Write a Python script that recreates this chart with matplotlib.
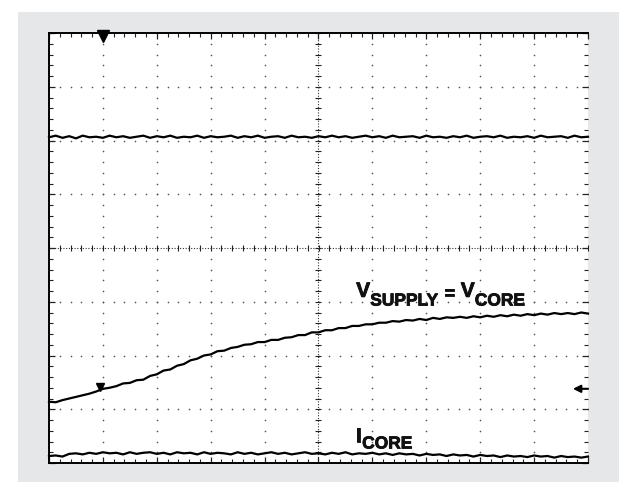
import numpy as np
import matplotlib
matplotlib.use("Agg")
import matplotlib.pyplot as plt
import matplotlib.patheffects as pe

# ---- data (in scope divisions) ----
ch_upper = [2.06, 2.09, 2.05, 2.08, 2.04, 2.09, 2.06, 2.07, 2.05, 2.09, 2.06, 2.08, 2.05, 2.07, 2.09, 2.05,
            2.08, 2.06, 2.09, 2.05, 2.07, 2.06, 2.09, 2.05, 2.08, 2.06, 2.07, 2.09, 2.05, 2.08, 2.06, 2.09,
            2.05, 2.07, 2.08, 2.05, 2.09, 2.06, 2.07, 2.05, 2.08, 2.06, 2.09, 2.06, 2.08, 2.05, 2.07, 2.09,
            2.06, 2.08, 2.05, 2.09, 2.06, 2.07, 2.08, 2.05, 2.09, 2.06, 2.07, 2.05, 2.08, 2.06, 2.09, 2.05,
            2.07, 2.08, 2.06, 2.09, 2.05, 2.07, 2.06, 2.08, 2.05, 2.09, 2.06, 2.07, 2.08, 2.05, 2.09, 2.06, 2.07]

v_supply = [-2.86, -2.87, -2.83, -2.80, -2.77, -2.74, -2.71, -2.67, -2.62, -2.60, -2.57, -2.52, -2.51, -2.46,
            -2.45, -2.38, -2.35, -2.28, -2.26, -2.19, -2.16, -2.09, -2.06, -2.00, -1.98, -1.92, -1.91, -1.86,
            -1.84, -1.80, -1.79, -1.75, -1.75, -1.71, -1.71, -1.67, -1.66, -1.62, -1.62, -1.57, -1.57, -1.53,
            -1.53, -1.49, -1.49, -1.45, -1.45, -1.42, -1.42, -1.39, -1.39, -1.36, -1.37, -1.34, -1.35, -1.32,
            -1.34, -1.30, -1.32, -1.29, -1.30, -1.28, -1.30, -1.27, -1.29, -1.26, -1.28, -1.25, -1.27, -1.24,
            -1.26, -1.23, -1.25, -1.22, -1.24, -1.21, -1.23, -1.21, -1.23, -1.20, -1.22]

i_core = [-3.87, -3.86, -3.88, -3.83, -3.82, -3.84, -3.81, -3.83, -3.80, -3.82, -3.81, -3.84, -3.80, -3.83,
          -3.81, -3.80, -3.83, -3.81, -3.84, -3.80, -3.82, -3.81, -3.84, -3.80, -3.83, -3.81, -3.82, -3.84,
          -3.80, -3.83, -3.81, -3.84, -3.82, -3.80, -3.83, -3.81, -3.84, -3.82, -3.80, -3.83, -3.82, -3.84,
          -3.81, -3.83, -3.80, -3.84, -3.82, -3.83, -3.81, -3.84, -3.82, -3.85, -3.82, -3.84, -3.83, -3.86,
          -3.83, -3.85, -3.84, -3.87, -3.84, -3.86, -3.85, -3.88, -3.85, -3.87, -3.86, -3.89, -3.86, -3.88,
          -3.87, -3.89, -3.86, -3.88, -3.87, -3.90, -3.87, -3.89, -3.88, -3.90, -3.88]

trigger_x, trigger_y = -4.05, -2.59
ref_marker_y = -2.62
top_marker_x = -4.0

FONT = "Liberation Sans"

fig = plt.figure(figsize=(6.37, 5.00), dpi=100)
fig.patch.set_facecolor("white")
W, H = 637, 500
bg = fig.add_axes([18 / W, 1 - 482 / H, (619 - 18) / W, (482 - 12) / H], zorder=-5)
bg.set_facecolor("#e6e7e8")
bg.set_xticks([])
bg.set_yticks([])
for s in bg.spines.values():
    s.set_visible(False)

ax = fig.add_axes([49 / W, 1 - 463 / H, 539 / W, 430 / H], zorder=1)
ax.set_facecolor("white")
ax.set_xlim(-5, 5)
ax.set_ylim(-4, 4)

# frame
for s in ["top", "left", "bottom"]:
    ax.spines[s].set_linewidth(1.4)
    ax.spines[s].set_color("black")
ax.spines["right"].set_visible(False)

ax.set_xticks(np.arange(-5, 5.01, 1))
ax.set_yticks(np.arange(-4, 4.01, 1))
ax.set_xticks(np.arange(-5, 5.01, 0.2), minor=True)
ax.set_yticks(np.arange(-4, 4.01, 0.2), minor=True)
ax.tick_params(which="both", direction="in", top=True, right=True, bottom=True, left=True,
               labelbottom=False, labelleft=False, color="#222222")
ax.tick_params(which="major", length=4, width=0.9)
ax.tick_params(which="minor", length=3, width=0.8)

# dotted grid
fine_y = np.arange(-4, 4.01, 0.2)
fine_x = np.arange(-5, 5.01, 0.2)
for xv in range(-4, 5):
    if xv == 0:
        continue
    ax.scatter(np.full_like(fine_y, xv), fine_y, s=1.4, color="#555555", linewidths=0, zorder=1)
for yv in range(-3, 4):
    if yv == 0:
        continue
    ax.scatter(fine_x, np.full_like(fine_x, yv), s=1.4, color="#555555", linewidths=0, zorder=1)

# center crosshair
ax.axhline(0, color="#333333", lw=0.8, ls=(0, (1, 1.5)), zorder=1)
ax.axvline(0, color="#333333", lw=0.8, ls=(0, (1, 1.5)), zorder=1)
ax.plot(fine_x, np.zeros_like(fine_x), ls="none", marker="|", ms=5, mew=0.8, color="#222222", zorder=1)
ax.plot(np.zeros_like(fine_y), fine_y, ls="none", marker="_", ms=5, mew=0.8, color="#222222", zorder=1)

# traces
for series in (ch_upper, v_supply, i_core):
    xs = np.linspace(-5, 5, len(series))
    ax.plot(xs, series, color="black", lw=1.6, zorder=3, clip_on=False, solid_joinstyle="miter")

# markers
ax.plot([trigger_x], [trigger_y], marker="v", ms=5.5, color="black", zorder=4)
ax.plot([top_marker_x], [3.94], marker="v", ms=9, color="black", zorder=4, clip_on=False)
ax.annotate("", xy=(4.72, ref_marker_y), xytext=(5.0, ref_marker_y),
            arrowprops=dict(arrowstyle="-|>", color="black", lw=1.5, mutation_scale=11,
                            shrinkA=0, shrinkB=0), annotation_clip=False, zorder=4)

# labels
stroke = [pe.withStroke(linewidth=0.6, foreground="#111111")]
main_kw = dict(fontsize=15, fontweight="bold", family=FONT, ha="left", va="baseline", color="#111111",
               zorder=5, path_effects=stroke)
sub_kw = dict(fontsize=12.5, fontweight="bold", family=FONT, ha="left", va="baseline", color="#111111",
              zorder=5, path_effects=stroke)
ax.text(0.70, -0.91, "V", **main_kw)
ax.text(0.96, -1.07, "SUPPLY", **sub_kw)
ax.text(2.33, -0.93, "=", **sub_kw)
ax.text(2.64, -0.91, "V", **main_kw)
ax.text(2.90, -1.07, "CORE", **sub_kw)
ax.text(0.69, -3.61, "I", **main_kw)
ax.text(0.81, -3.73, "CORE", **sub_kw)

fig.savefig("out.png", dpi=100, facecolor="white")
